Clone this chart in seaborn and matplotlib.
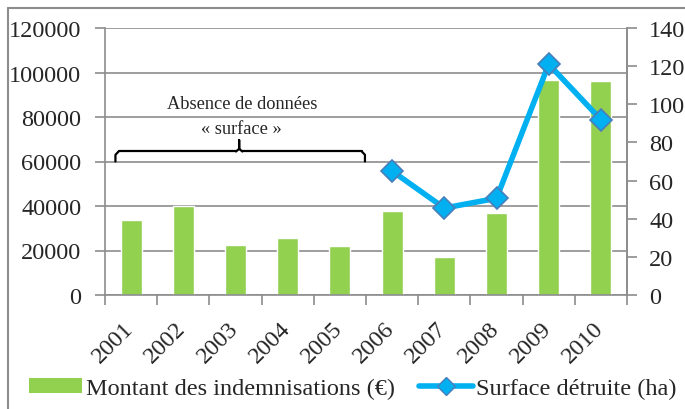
import matplotlib
matplotlib.use("Agg")
import matplotlib.pyplot as plt
import matplotlib.transforms as mtransforms
import seaborn as sns
import pandas as pd
from matplotlib.lines import Line2D
from matplotlib.patches import Patch

years = ["2001", "2002", "2003", "2004", "2005", "2006", "2007", "2008", "2009", "2010"]
montant = [33500, 40200, 22500, 25500, 21900, 37900, 17200, 36700, 96800, 96000]
surface_years = ["2006", "2007", "2008", "2009", "2010"]
surface = [65, 45.6, 50.7, 121, 92]

bar_label = "Montant des indemnisations (€)"
line_label = "Surface détruite (ha)"
note_text = "Absence de données\n« surface »"

sns.set_theme(style="white")
plt.rcParams['font.family'] = ['Liberation Serif', 'DejaVu Serif']

GREEN = "#92D050"
BLUE = "#00B0F0"
EDGE = "#4A7EBB"
GRID = "#8C8C8C"
FS = 17.5

fig = plt.figure(figsize=(6.85, 4.10), dpi=100)
ax = fig.add_axes([105/685, 1-296/410, (627-105)/685, (296-29)/410])

df_bar = pd.DataFrame({"year": years, "montant": montant})
sns.barplot(data=df_bar, x="year", y="montant", order=years, color=GREEN,
            width=0.4, saturation=1, ax=ax, zorder=2)
ax.set_xlim(-0.5, len(years) - 0.5)
ax.set_ylim(0, 120000)
ax.set_yticks(range(0, 120001, 20000))
ax.set_yticklabels([str(v) for v in range(0, 120001, 20000)], fontsize=FS)
ax.yaxis.grid(True, color=GRID, linewidth=1.2, zorder=0)
ax.set_axisbelow(True)
ax.set_xlabel("")
ax.set_ylabel("")
ax.spines["top"].set_visible(False)
for s in ["left", "bottom", "right"]:
    ax.spines[s].set_color(GRID)
    ax.spines[s].set_linewidth(1.2)

# x ticks at category boundaries, labels at centers
ax.set_xticks([i - 0.5 for i in range(len(years) + 1)], minor=False)
ax.set_xticklabels([])
ax.set_xticks(range(len(years)), minor=True)
ax.set_xticklabels(years, minor=True, rotation=45, ha="right", va="top",
                   rotation_mode="anchor", fontsize=FS)
ax.tick_params(axis="x", which="major", direction="out", length=7, width=1.2,
               color=GRID, bottom=True)
ax.tick_params(axis="x", which="minor", length=0, pad=16)
ax.tick_params(axis="y", direction="out", length=7, width=1.2, color=GRID,
               left=True, pad=10)
shift = mtransforms.ScaledTranslation(-8/100, 0, fig.dpi_scale_trans)
for lbl in ax.get_xticklabels(minor=True):
    lbl.set_transform(lbl.get_transform() + shift)

ax2 = ax.twinx()
pos = [years.index(y) for y in surface_years]
df_line = pd.DataFrame({"pos": pos, "surface": surface})
sns.lineplot(data=df_line, x="pos", y="surface", ax=ax2, color=BLUE,
             linewidth=4, marker="D", markersize=11, markerfacecolor=BLUE,
             markeredgecolor=EDGE, markeredgewidth=1.2, zorder=5)
ax2.set_ylim(0, 140)
ax2.set_yticks(range(0, 141, 20))
ax2.set_yticklabels([str(v) for v in range(0, 141, 20)], fontsize=FS)
ax2.set_xlim(-0.5, len(years) - 0.5)
ax2.set_xlabel("")
ax2.set_ylabel("")
ax2.tick_params(axis="y", direction="out", length=7, width=1.2, color=GRID,
                right=True, pad=9)
for s in ["top", "left", "bottom"]:
    ax2.spines[s].set_visible(False)
ax2.spines["right"].set_color(GRID)
ax2.spines["right"].set_linewidth(1.2)

# brace annotation
bx0, bx1, bxc = -0.3, 4.48, 2.07
by, bend, btip = 64500, 60000, 69600
r = 0.06
ax.plot([bx0, bx0, bx0 + r], [bend, by - 1500, by], color="black", lw=1.6, zorder=6, clip_on=False)
ax.plot([bx1, bx1, bx1 - r], [bend, by - 1500, by], color="black", lw=1.6, zorder=6, clip_on=False)
ax.plot([bx0 + r, bxc - r], [by, by], color="black", lw=1.6, zorder=6)
ax.plot([bxc + r, bx1 - r], [by, by], color="black", lw=1.6, zorder=6)
ax.plot([bxc - r, bxc, bxc, bxc, bxc + r], [by, by + 1200, btip, by + 1200, by],
        color="black", lw=1.6, zorder=6)
ax.text(bxc + 0.05, 80500, note_text, ha="center", va="center", fontsize=13.2,
        linespacing=1.6, zorder=6)

# frame lines of the original picture
fig.add_artist(Line2D([8/685, 1], [1-9/410, 1-9/410], color=GRID, lw=1.5))
fig.add_artist(Line2D([8/685, 8/685], [0, 1-9/410], color=GRID, lw=1.5))

handles = [Patch(facecolor=GREEN, edgecolor="none"),
           Line2D([0], [0], color=BLUE, lw=4, marker="D", markersize=9,
                  markerfacecolor=BLUE, markeredgecolor=EDGE)]
fig.legend(handles, [bar_label, line_label], loc="center",
           bbox_to_anchor=(0.515, 0.05), ncol=2, frameon=False, fontsize=FS,
           handlelength=2.2, handleheight=0.55, handletextpad=0.15,
           columnspacing=1.0, borderaxespad=0)

fig.savefig("out.png", dpi=100)
